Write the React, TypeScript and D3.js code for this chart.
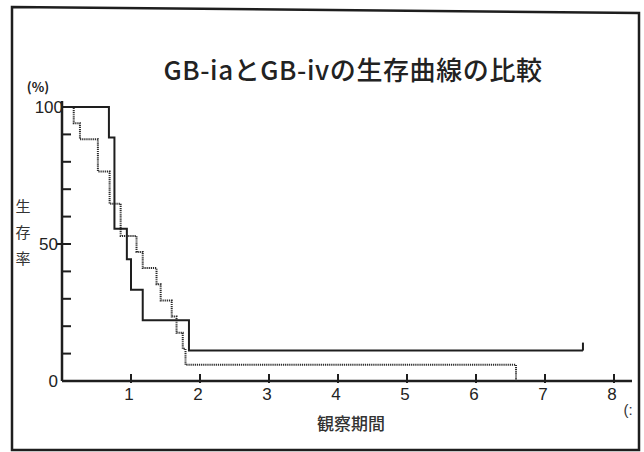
import React from "react";
import * as d3 from "d3";

const title = "GB-iaとGB-ivの生存曲線の比較";
const xTicks = [1, 2, 3, 4, 5, 6, 7, 8];
const yMinorTicks = [10, 20, 30, 40, 50, 60, 70, 80, 90];
const yLabels = [0, 50, 100];

// solid curve (n≈9)
const solidTimes = [0, 0.68, 0.76, 0.94, 1.0, 1.17, 1.84, 7.55];
const solidSurv = [100, 88.9, 55.6, 44.4, 33.3, 22.2, 11.1, 11.1];
// dotted curve (n≈17)
const dottedTimes = [0, 0.17, 0.26, 0.52, 0.69, 0.85, 1.08, 1.17, 1.37, 1.43, 1.59, 1.66, 1.75, 1.79, 6.58, 6.58];
const dottedSurv = [100, 94.1, 88.2, 76.5, 64.7, 52.9, 47.1, 41.2, 35.3, 29.4, 23.5, 17.6, 11.8, 5.9, 5.9, 0];

export default function App() {
  const x = d3.scaleLinear().domain([0, 8]).range([62, 614]);
  const y = d3.scaleLinear().domain([0, 100]).range([381, 107]);
  const line = d3
    .line<[number, number]>()
    .x((d) => x(d[0]))
    .y((d) => y(d[1]))
    .curve(d3.curveStepAfter);
  const solidPts: [number, number][] = solidTimes.map((t, i) => [t, solidSurv[i]]);
  const dottedPts: [number, number][] = dottedTimes.map((t, i) => [t, dottedSurv[i]]);
  const lastSolidT = solidTimes[solidTimes.length - 1];
  const lastSolidS = solidSurv[solidSurv.length - 1];
  const ink = "#1e1e1e";
  const num = "'Liberation Sans', Arial, sans-serif";
  const jp = "'Noto Sans CJK JP', sans-serif";
  const yLab = ["生", "存", "率"];
  return (
    <svg width={644} height={452} style={{ position: "absolute", left: 0, top: 0, background: "#fff" }}>
      <rect x={0} y={0} width={644} height={452} fill="#fff" />
      <path d="M12,7 L639,13 L639,450 L12,450 Z" fill="none" stroke={ink} strokeWidth={2.5} />
      <text x={353} y={80} textAnchor="middle" fontFamily={jp} fontSize={26} fontWeight={500} letterSpacing={0.6} fill="#222">
        {title}
      </text>
      {/* axes */}
      <line x1={x(0)} y1={101} x2={x(0)} y2={y(0)} stroke={ink} strokeWidth={2.5} />
      <line x1={x(0)} y1={y(0)} x2={632} y2={y(0)} stroke={ink} strokeWidth={2.5} />
      {yMinorTicks.map((v) => (
        <line key={v} x1={v === 50 ? x(0) - 5 : x(0)} y1={y(v)} x2={x(0) + 9} y2={y(v)} stroke={ink} strokeWidth={2} />
      ))}
      {xTicks.map((v) => (
        <g key={v}>
          <line x1={x(v)} y1={y(0) + 2} x2={x(v)} y2={y(0) - 7} stroke={ink} strokeWidth={2} />
          <text x={x(v) - 2} y={y(0) + 19} textAnchor="middle" fontFamily={num} fontSize={17} fill="#222">
            {v}
          </text>
        </g>
      ))}
      {yLabels.map((v) => (
        <text key={v} x={v === 100 ? x(0) + 1 : x(0) - 4} y={y(v) + 6} textAnchor="end" fontFamily={num} fontSize={17} fill="#222">
          {v}
        </text>
      ))}
      <text x={38} y={92} textAnchor="middle" fontFamily={jp} fontSize={13} fontWeight={700} fill="#222">(%)</text>
      {yLab.map((c, i) => (
        <text key={c} x={23} y={212 + i * 26} textAnchor="middle" fontFamily={jp} fontSize={15} fill="#333">
          {c}
        </text>
      ))}
      <text x={351} y={430} textAnchor="middle" fontFamily={jp} fontSize={17} fontWeight={500} fill="#333">観察期間</text>
      <text x={628} y={415} textAnchor="middle" fontFamily={num} fontSize={15} fill="#333">(:</text>
      {/* curves */}
      <path d={line(dottedPts) || ""} fill="none" stroke="#2a2a2a" strokeWidth={2} strokeDasharray="1.2,0.9" />
      <path d={line(solidPts) || ""} fill="none" stroke={ink} strokeWidth={2} />
      <line x1={x(lastSolidT)} y1={y(lastSolidS)} x2={x(lastSolidT)} y2={y(lastSolidS) - 8} stroke={ink} strokeWidth={2} />
    </svg>
  );
}
